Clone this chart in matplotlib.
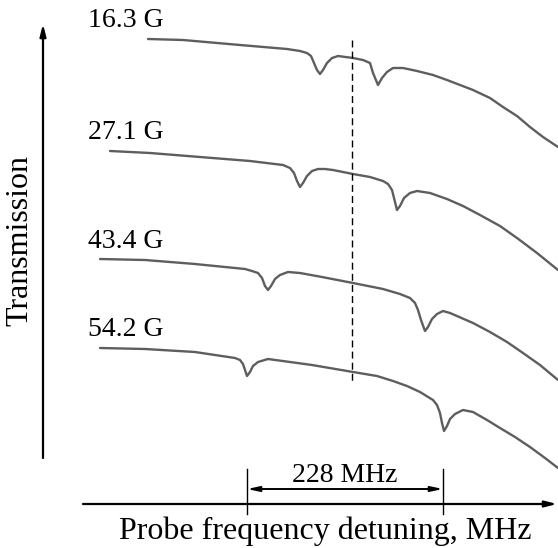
import matplotlib
matplotlib.use("Agg")
import matplotlib.pyplot as plt

# Plot units: horizontal = detuning position, vertical = depth (drawn downward)
labels = ["16.3 G", "27.1 G", "43.4 G", "54.2 G"]

t1_x = [148, 183, 240, 287, 300, 307, 311, 314, 317, 320, 323, 327, 332, 338, 353, 363, 370, 373, 378, 382, 387, 393,
        403, 417, 433, 447, 460, 473, 490, 503, 517, 530, 543, 558]
t1_y = [39, 40, 45, 49, 51, 53, 56, 63, 70, 74, 70, 63, 58, 56, 58, 60, 63, 73, 85, 78, 72, 68,
        68, 71, 75, 80, 85, 90, 98, 107, 116, 127, 137, 147]

t2_x = [110, 150, 200, 250, 283, 290, 294, 297, 300, 303, 307, 312, 318, 325, 333, 353, 370, 383, 388, 392, 395, 397,
        400, 404, 410, 417, 430, 447, 463, 480, 500, 517, 537, 558]
t2_y = [151, 153, 157, 161, 165, 168, 173, 181, 187, 183, 176, 171, 169, 169, 170, 174, 177, 181, 184, 190, 202, 210,
        206, 198, 193, 191, 193, 199, 206, 215, 226, 238, 253, 270]

t3_x = [100, 145, 195, 245, 252, 258, 262, 265, 268, 271, 275, 280, 288, 300, 322, 353, 368, 383, 400, 410, 415, 418,
        421, 425, 428, 432, 437, 443, 450, 473, 490, 507, 523, 540, 558]
t3_y = [259, 260, 264, 269, 271, 273, 278, 286, 290, 286, 279, 275, 272, 273, 277, 283, 286, 289, 294, 298, 303, 310,
        320, 331, 327, 319, 314, 311, 313, 323, 332, 342, 353, 365, 380]

t4_x = [100, 145, 195, 235, 240, 243, 245, 247, 250, 253, 258, 268, 290, 312, 353, 377, 393, 407, 420, 433, 437, 440,
        442, 444, 447, 450, 455, 463, 473, 487, 500, 515, 530, 545, 558]
t4_y = [348, 349, 352, 358, 360, 364, 370, 376, 372, 366, 362, 359, 362, 365, 372, 376, 381, 386, 392, 400, 405, 413,
        423, 431, 426, 419, 414, 410, 412, 420, 428, 437, 447, 458, 468]

label_pos = [(88, 27), (88, 139), (88, 248), (88, 336)]
ref_x = 352
split_left, split_right = 247, 443
split_text = "228 MHz"
xlabel = "Probe frequency detuning, MHz"
ylabel = "Transmission"

plt.rcParams['font.family'] = ['Liberation Serif', 'DejaVu Serif']

fig = plt.figure(figsize=(5.58, 5.48), dpi=100)
ax = fig.add_axes([0, 0, 1, 1])
ax.set_xlim(0, 558)
ax.set_ylim(548, 0)
ax.axis('off')

gray = '#5e5e5e'
for xs, ys in [(t1_x, t1_y), (t2_x, t2_y), (t3_x, t3_y), (t4_x, t4_y)]:
    ax.plot(xs, ys, color=gray, lw=1.7, solid_joinstyle='round', solid_capstyle='round')

for lab, (lx, ly) in zip(labels, label_pos):
    ax.text(lx, ly, lab, fontsize=20, ha='left', va='baseline', color='black')

# dashed reference line
ax.plot([ref_x, ref_x], [40, 384], color='black', lw=1.0, linestyle=(0, (5, 3)))

# y axis arrow
ax.annotate('', xy=(43, 24), xytext=(43, 458),
            arrowprops=dict(arrowstyle='-|>,head_length=0.7,head_width=0.18', lw=1.6,
                            color='black', shrinkA=0, shrinkB=0))
ax.text(20, 241, ylabel, rotation=90, fontsize=23, ha='center', va='center')

# x axis arrow
ax.annotate('', xy=(557, 504), xytext=(83, 504),
            arrowprops=dict(arrowstyle='-|>,head_length=0.7,head_width=0.18', lw=1.6,
                            color='black', shrinkA=0, shrinkB=0))
ax.text(325, 531, xlabel, fontsize=23, ha='center', va='center')

# splitting marker
for sx in (split_left, split_right):
    ax.plot([sx, sx], [469, 514], color='black', lw=1.0)
ax.annotate('', xy=(split_right, 489), xytext=(split_left, 489),
            arrowprops=dict(arrowstyle='<|-|>,head_length=0.7,head_width=0.15', lw=1.4,
                            color='black', shrinkA=0, shrinkB=0))
ax.text((split_left + split_right) / 2, 482, split_text, fontsize=20, ha='center', va='baseline')

fig.savefig('out.png', dpi=100)
